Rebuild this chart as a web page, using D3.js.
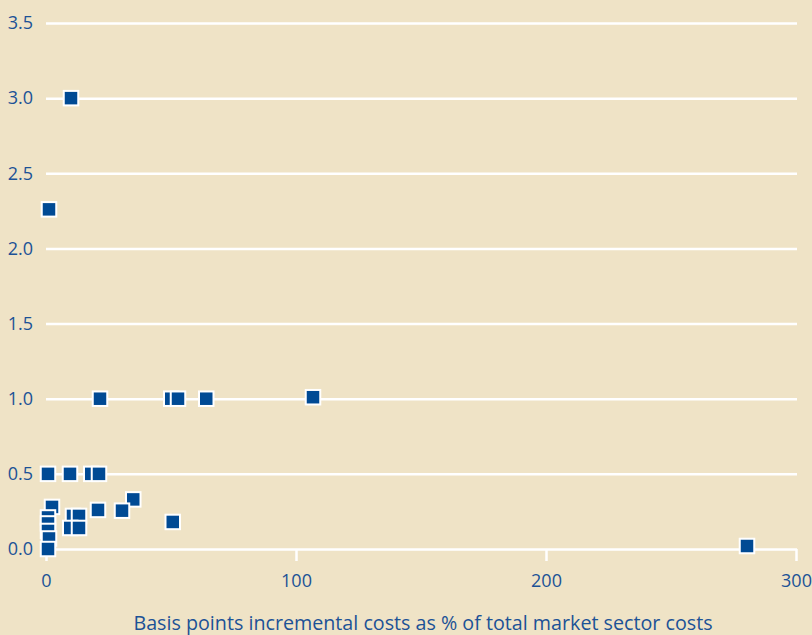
<!DOCTYPE html>
<html>
<head>
<meta charset="utf-8">
<script src="https://cdn.jsdelivr.net/npm/d3@7"></script>
<style>
  html, body { margin: 0; padding: 0; background: #efe3c6; }
  svg { display: block; }
</style>
</head>
<body>
<svg id="chart" width="812" height="635"></svg>
<script>
// Data (drawn in this order; later points overlap earlier ones)
const xValues = [10, 1.2, 21.6, 50.1, 52.8, 64.1, 106.8, 0.8, 9.6, 18.1, 21.2, 34.9, 2.4, 20.8, 30.4, 10.8, 13.2, 0.8, 50.7, 0.8, 9.7, 13.2, 0.8, 1.2, 280.4, 0.8];
const yValues = [3.0, 2.26, 1.0, 1.0, 1.0, 1.0, 1.01, 0.5, 0.5, 0.5, 0.5, 0.33, 0.28, 0.26, 0.255, 0.22, 0.22, 0.21, 0.18, 0.17, 0.14, 0.14, 0.12, 0.07, 0.02, 0.0];
const xTicks = [0, 100, 200, 300];
const yTicks = [0, 0.5, 1.0, 1.5, 2.0, 2.5, 3.0, 3.5];
const xTitle = "Basis points incremental costs as % of total market sector costs";

const svg = d3.select("#chart");
const W = 812, H = 635;
const textColor = "#1c5296";
const markColor = "#004a94";
const font = "'Open Sans', sans-serif";

svg.append("rect").attr("width", W).attr("height", H).attr("fill", "#efe3c6");

const x = d3.scaleLinear().domain([0, 300]).range([46, 796]);
const y = d3.scaleLinear().domain([0, 3.5]).range([549, 23]);

// gridlines
const gy = svg.append("g")
  .attr("transform", `translate(${x(0)},0)`)
  .call(d3.axisLeft(y).tickValues(yTicks).tickSize(-(x(300) - x(0) + 1)).tickPadding(13).tickFormat(d3.format(".1f")));
gy.select(".domain").remove();
gy.selectAll(".tick line").attr("stroke", "#ffffff").attr("stroke-width", 2.5);
gy.selectAll(".tick text").attr("fill", textColor).attr("font-family", font).attr("font-size", 18);

// x axis ticks
const gx = svg.append("g")
  .attr("transform", `translate(0,${y(0)})`)
  .call(d3.axisBottom(x).tickValues(xTicks).tickSize(12).tickPadding(13).tickFormat(d3.format("d")));
gx.select(".domain").remove();
gx.selectAll(".tick line").attr("stroke", "#ffffff").attr("stroke-width", 2.5);
gx.selectAll(".tick text").attr("fill", textColor).attr("font-family", font).attr("font-size", 18);

// x-axis title
svg.append("text")
  .attr("x", (x(0) + x(300)) / 2 + 2).attr("y", 630)
  .attr("text-anchor", "middle")
  .attr("fill", textColor).attr("font-family", font).attr("font-size", 19.7)
  .text(xTitle);

// points
const pts = xValues.map((v, i) => ({ x: v, y: yValues[i] }));
const s = 14.5;
svg.append("g").selectAll("rect").data(pts).join("rect")
  .attr("x", d => x(d.x) - s / 2)
  .attr("y", d => y(d.y) - s / 2)
  .attr("width", s).attr("height", s)
  .attr("fill", markColor)
  .attr("stroke", "#ffffff").attr("stroke-width", 2);
</script>
</body>
</html>
